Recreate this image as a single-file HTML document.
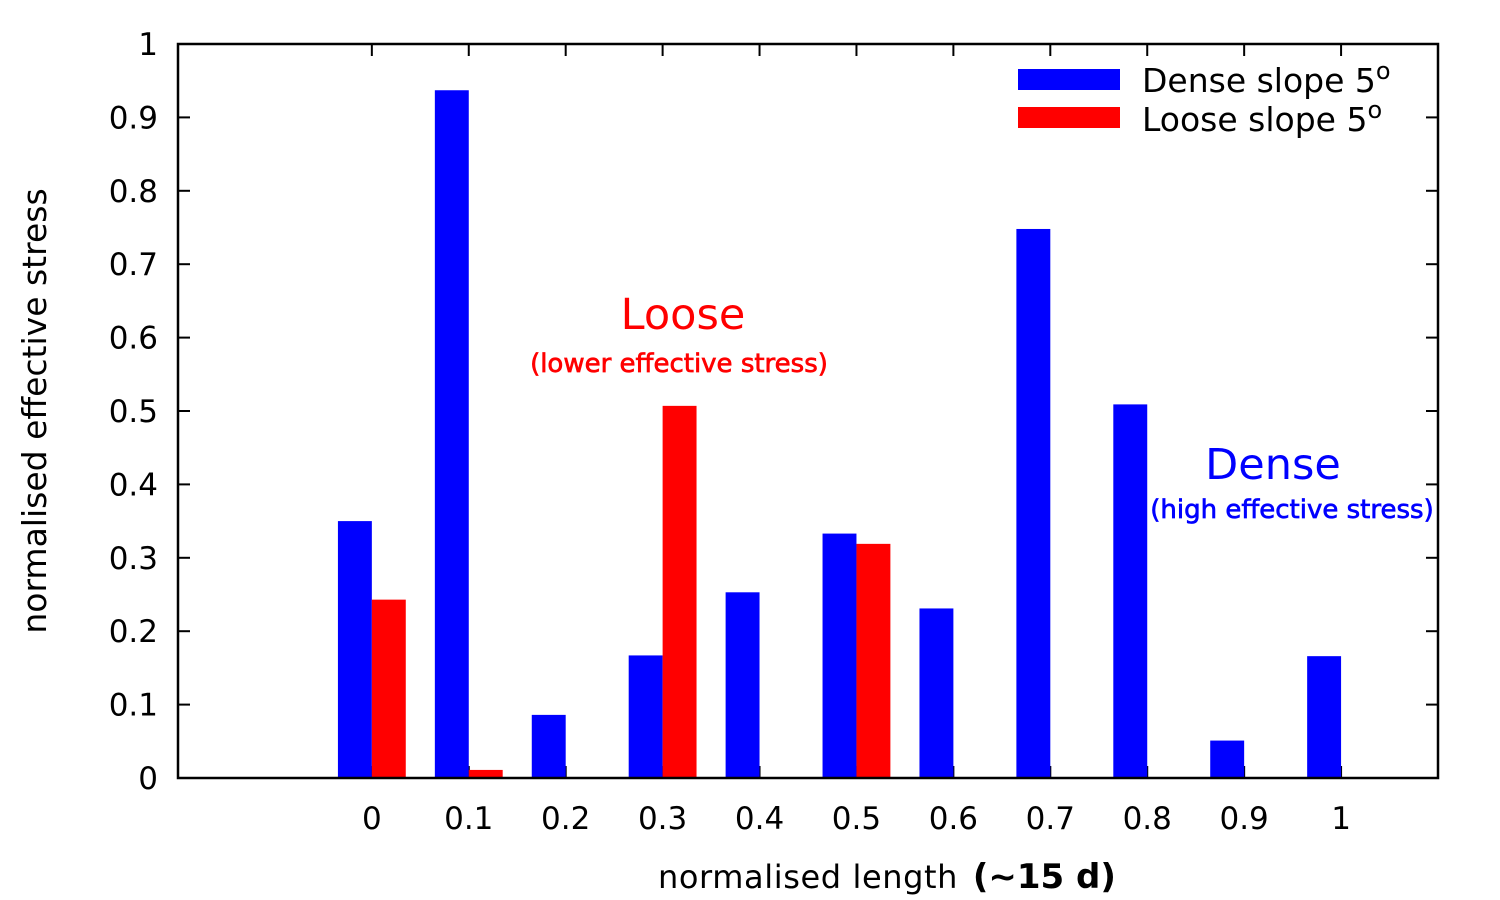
<!DOCTYPE html>
<html><head><meta charset="utf-8"><style>
html,body{margin:0;padding:0;background:#fff;}
svg{display:block;font-family:"DejaVu Sans","Liberation Sans",sans-serif;}
</style></head><body>
<svg id="chart" width="1500" height="900" viewBox="0 0 1500 900" xmlns="http://www.w3.org/2000/svg">
<g id="ticks"></g>
<g id="bars"></g>
<g id="labels"></g>
<rect x="178" y="44" width="1260" height="734" fill="none" stroke="#000" stroke-width="2.5"/>
<text transform="translate(46,411) rotate(-90)" text-anchor="middle" font-size="33">normalised effective stress</text>
<text x="658" y="888" font-size="32" letter-spacing="0.6">normalised length <tspan font-size="34" font-weight="bold" letter-spacing="0" dx="4">(~15 d)</tspan></text>
<text x="683" y="329" text-anchor="middle" font-size="43" fill="#f00">Loose</text>
<text x="679" y="372" text-anchor="middle" font-size="26" fill="#f00" stroke="#f00" stroke-width="0.7">(lower effective stress)</text>
<text x="1273" y="479" text-anchor="middle" font-size="43" fill="#00f">Dense</text>
<text x="1292" y="518" text-anchor="middle" font-size="26" fill="#00f" stroke="#00f" stroke-width="0.7">(high effective stress)</text>
<g>
<rect x="1018" y="69" width="102" height="21" fill="#00f"/>
<text x="1142" y="92" font-size="33">Dense slope 5<tspan dy="-13" font-size="24">o</tspan></text>
<rect x="1018" y="107" width="102" height="21" fill="#f00"/>
<text x="1142" y="131" font-size="33">Loose slope 5<tspan dy="-13" font-size="24">o</tspan></text>
</g>
</svg>
<script>
const categories = [0, 0.1, 0.2, 0.3, 0.4, 0.5, 0.6, 0.7, 0.8, 0.9, 1];
const xTickLabels = ["0","0.1","0.2","0.3","0.4","0.5","0.6","0.7","0.8","0.9","1"];
const denseValues = [0.350, 0.937, 0.086, 0.167, 0.253, 0.333, 0.231, 0.748, 0.509, 0.051, 0.166];
const looseValues = [0.243, 0.011, 0, 0.507, 0, 0.319, 0, 0, 0, 0, 0];
const yTicks = [0, 0.1, 0.2, 0.3, 0.4, 0.5, 0.6, 0.7, 0.8, 0.9, 1];
const yTickLabels = ["0","0.1","0.2","0.3","0.4","0.5","0.6","0.7","0.8","0.9","1"];

const L=178,R=1438,T=44,B=778;
const xMin=-0.2,xMax=1.1;
function xs(v){return L+(v-xMin)/(xMax-xMin)*(R-L);}
function ys(v){return B-v*(B-T);}
const NS="http://www.w3.org/2000/svg";
const ticks=document.getElementById('ticks'),bars=document.getElementById('bars'),labels=document.getElementById('labels');
function mk(tag,attrs,parent){const e=document.createElementNS(NS,tag);for(const k in attrs)e.setAttribute(k,attrs[k]);parent.appendChild(e);return e;}
yTicks.forEach((v,i)=>{
  const y=ys(v);
  const t1=mk('line',{x1:L,x2:L+12,y1:y,y2:y,stroke:'#000','stroke-width':2},ticks);
  
  
  const t2=mk('line',{x1:R-12,x2:R,y1:y,y2:y,stroke:'#000','stroke-width':2},ticks);
  
  
  const tx=mk('text',{x:L-20,y:y+11,'text-anchor':'end','font-size':31},labels);
  tx.textContent=yTickLabels[i];
  
  
});
const bw=(xs(0.1)-xs(0))*0.35;
categories.forEach((c,i)=>{
  const x=xs(c);
  const t1=mk('line',{x1:x,x2:x,y1:B,y2:B-12,stroke:'#000','stroke-width':2},ticks);
  
  
  const t2=mk('line',{x1:x,x2:x,y1:T,y2:T+12,stroke:'#000','stroke-width':2},ticks);
  
  
  const tx=mk('text',{x:x,y:829,'text-anchor':'middle','font-size':31},labels);
  tx.textContent=xTickLabels[i];
  
  
  const dv=denseValues[i];
  if(dv>0){
    const b=mk('rect',{x:x-bw,y:ys(dv),width:bw,height:B-ys(dv),fill:'#00f'},bars);
    
    
  }
  const lv=looseValues[i];
  if(lv>0){
    const b=mk('rect',{x:x,y:ys(lv),width:bw,height:B-ys(lv),fill:'#f00'},bars);
    
    
  }
});
</script>
</body></html>
